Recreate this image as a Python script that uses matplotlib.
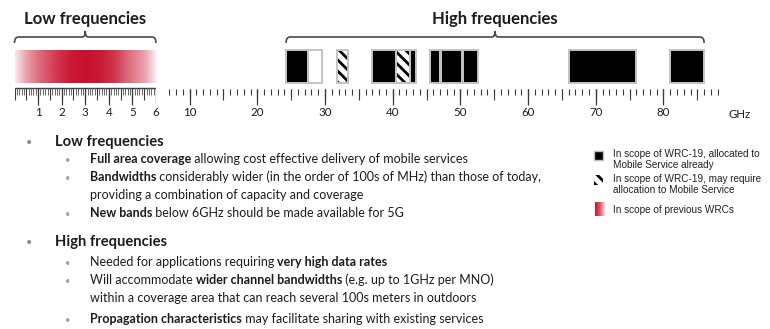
"""Low vs high frequency bands for 5G (WRC-19 scope) with a bullet summary.

Generates ``out.png``.
"""

import matplotlib.pyplot as plt
import numpy as np
from matplotlib.path import Path
from matplotlib.patches import PathPatch, Rectangle

W, H = 770, 329

# ---- data --------------------------------------------------------------
LOW_TICK_LABELS = [1, 2, 3, 4, 5, 6]
HIGH_TICK_LABELS = [10, 20, 30, 40, 50, 60, 70, 80]

# bands in GHz
ALLOCATED_START = [24.25, 37.0, 42.5, 45.5, 47.2, 50.4, 66.0, 81.0]
ALLOCATED_END = [27.5, 40.5, 43.5, 47.0, 50.2, 52.6, 76.0, 86.0]
NEW_ALLOC_START = [31.8, 40.5, 47.0]
NEW_ALLOC_END = [33.4, 42.5, 47.2]
OUTSIDE_START = [27.5]
OUTSIDE_END = [29.5]
PREVIOUS_WRC = (0.0, 6.0)

LOW_SPAN = (0.0, 6.0)
HIGH_SPAN = (24.25, 86.0)

LEGEND_LABELS = [
    ["In scope of WRC-19, allocated to", "Mobile Service already"],
    ["In scope of WRC-19, may require", "allocation to Mobile Service"],
    ["In scope of previous WRCs"],
]

LOW_HEADING = "Low frequencies"
LOW_POINTS = [
    (True, [("Full area coverage", True),
            (" allowing cost effective delivery of mobile services", False)]),
    (True, [("Bandwidths", True),
            (" considerably wider (in the order of 100s of MHz) than those of today,", False)]),
    (False, [("providing a combination of capacity and coverage", False)]),
    (True, [("New bands", True),
            (" below 6GHz should be made available for 5G", False)]),
]
HIGH_HEADING = "High frequencies"
HIGH_POINTS = [
    (True, [("Needed for applications requiring", False),
            (" very high data rates", True)]),
    (True, [("Will accommodate", False),
            (" wider channel bandwidths", True),
            (" (e.g. up to 1GHz per MNO)", False)]),
    (False, [("within a coverage area that can reach several 100s meters in outdoors", False)]),
    (True, [("Propagation characteristics", True),
            (" may facilitate sharing with existing services", False)]),
]

RED = np.array([200, 16, 46]) / 255
TXT = "#1c1c1c"
TICK = "#3a3a3a"

plt.rcParams["font.family"] = "Lato"
plt.rcParams["hatch.linewidth"] = 2.0


def px_axes(fig, x0, x1, y0=0, y1=120):
    """Axes placed by pixel box; y data runs in pixels (top = 0)."""
    ax = fig.add_axes([x0 / W, 1 - y1 / H, (x1 - x0) / W, (y1 - y0) / H])
    ax.set_ylim(y1, y0)
    ax.set_facecolor("none")
    ax.axis("off")
    return ax


def gradient(ax, extent, stops, alphas):
    xs = np.linspace(0, 1, 200)
    rgba = np.ones((1, xs.size, 4))
    rgba[..., :3] = RED
    rgba[..., 3] = np.interp(xs, stops, alphas)
    xl, yl = ax.get_xlim(), ax.get_ylim()
    ax.imshow(rgba, extent=extent, aspect="auto", interpolation="bilinear")
    ax.set_xlim(xl)
    ax.set_ylim(yl)


def bracket(ax, x0, x1, ppu, title):
    r, t = 4 / ppu, 3 / ppu
    cx = (x0 + x1) / 2
    verts = [(x0, 43), (x0, 37), (x0 + r, 37), (cx - t, 37), (cx, 37), (cx, 31),
             (cx, 37), (cx + t, 37), (x1 - r, 37), (x1, 37), (x1, 43)]
    codes = [Path.MOVETO, Path.CURVE3, Path.CURVE3, Path.LINETO, Path.CURVE3,
             Path.CURVE3, Path.CURVE3, Path.CURVE3, Path.LINETO, Path.CURVE3,
             Path.CURVE3]
    ax.add_patch(PathPatch(Path(verts, codes), fill=False, ec="#4a4a4a",
                           lw=1.2, clip_on=False))
    ax.text(cx, 19, title, ha="center", va="center", fontsize=12,
            fontweight="bold", color=TXT)


def bands(ax, starts, ends, **kw):
    for s, e in zip(starts, ends):
        ax.add_patch(Rectangle((s, 50), e - s, 33, clip_on=False, **kw))


def outline(ax, starts, ends):
    bands(ax, starts, ends, fill=False, ec="#c4c4c4", lw=1.4)


fig = plt.figure(figsize=(W / 100, H / 100), dpi=100)

page = fig.add_axes([0, 0, 1, 1])
page.set_xlim(0, W)
page.set_ylim(H, 0)
page.axis("off")

# ---- low frequency ruler -----------------------------------------------
low = px_axes(fig, 14.5, 156)
low.set_xlim(0, 6)
gradient(low, (PREVIOUS_WRC[0], PREVIOUS_WRC[1], 83, 50),
         [0, 0.08, 0.17, 0.3, 0.4, 0.5, 0.6, 0.7, 0.8, 0.92, 1],
         [0.1, 0.4, 0.62, 0.85, 0.97, 1, 0.97, 0.85, 0.62, 0.38, 0.06])
fine = np.arange(0, 60.5) / 10
low.hlines(88, 0, 6, color=TICK, lw=1)
low.vlines(fine, 88, 95, color="#6a6a6a", lw=0.7)
low.vlines(fine[::5], 88, 100, color=TICK, lw=0.8)
low.vlines(LOW_TICK_LABELS, 88, 105, color=TICK, lw=0.9)
for v in LOW_TICK_LABELS:
    low.text(v, 112, str(v), ha="center", va="center", fontsize=8.3, color=TXT)
bracket(low, *LOW_SPAN, 141.5 / 6, "Low frequencies")

# ---- high frequency ruler ----------------------------------------------
high = px_axes(fig, 162.5, 724.4)
high.set_xlim(6, 89)
steps = np.arange(7, 89)
high.vlines(steps, 89, 95, color=TICK, lw=0.8)
high.vlines(steps[steps % 5 == 0], 89, 100, color=TICK, lw=0.8)
high.vlines(HIGH_TICK_LABELS, 89, 105, color=TICK, lw=0.9)
for v in HIGH_TICK_LABELS:
    high.text(v, 112, str(v), ha="center", va="center", fontsize=8.3, color=TXT)
bands(high, ALLOCATED_START, ALLOCATED_END, fc="black", ec="none")
bands(high, NEW_ALLOC_START, NEW_ALLOC_END, fc="white", ec="black", lw=0,
      hatch="\\\\\\")
outline(high, ALLOCATED_START + NEW_ALLOC_START + OUTSIDE_START,
        ALLOCATED_END + NEW_ALLOC_END + OUTSIDE_END)
bracket(high, *HIGH_SPAN, (724.4 - 162.5) / 83, "High frequencies")
page.text(740, 115, "GHz", ha="center", va="center", fontsize=8.3, color=TXT)

# ---- bullet text -------------------------------------------------------
def rich_line(x, y, runs, size):
    prev = None
    for text, bold in runs:
        weight = "bold" if bold else "normal"
        if prev is None:
            prev = page.text(x, y, text, ha="left", va="baseline",
                             fontsize=size, fontweight=weight, color=TXT)
        else:
            prev = page.annotate(text, xy=(1, 0), xycoords=prev, ha="left",
                                 va="bottom", fontsize=size,
                                 fontweight=weight, color=TXT)


def section(heading, y_head, points, ys):
    page.text(29, y_head, "\u2022", ha="center", va="baseline", fontsize=8,
              color="#8c8c8c")
    page.text(55, y_head, heading, ha="left", va="baseline", fontsize=10.6,
              fontweight="bold", color=TXT)
    for (has_bullet, runs), y in zip(points, ys):
        if has_bullet:
            page.text(68, y, "\u2022", ha="center", va="baseline",
                      fontsize=6.5, color="#a0a0a0")
        rich_line(90, y, runs, 9.0)


section(LOW_HEADING, 146, LOW_POINTS, [163, 181, 199, 217])
section(HIGH_HEADING, 246, HIGH_POINTS, [266, 284, 302, 323])

# ---- legend ------------------------------------------------------------
leg_font = dict(family="Liberation Sans", fontsize=7.2, color="#222222",
                ha="left", va="center")
page.add_patch(Rectangle((594, 151), 9, 9, fc="black", ec="#bdbdbd", lw=1))
page.add_patch(Rectangle((594, 175), 9, 10, fc="white", ec="black", lw=0,
                         hatch="\\\\\\"))
gradient(page, (595, 605, 216, 202), [0, 0.5, 1], [1, 0.7, 0.15])
for lines, y in zip(LEGEND_LABELS, [154, 179, 210]):
    for i, line in enumerate(lines):
        page.text(613, y + 11 * i, line, **leg_font)

fig.savefig("out.png", dpi=100)
